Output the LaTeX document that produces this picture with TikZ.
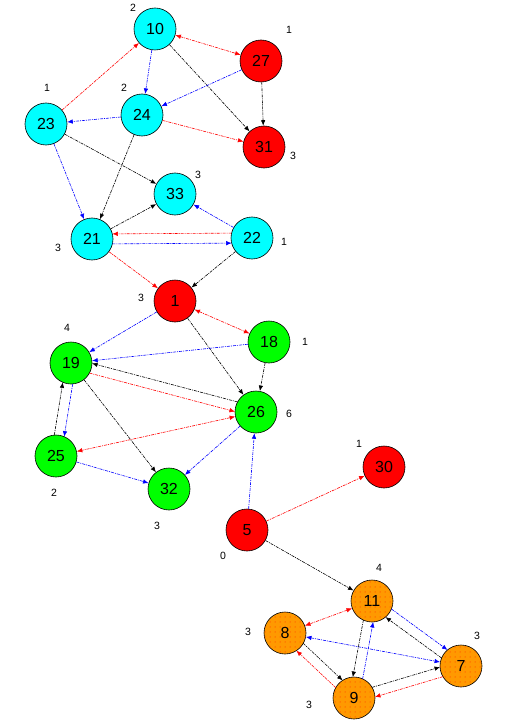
\documentclass[tikz,border=0pt]{standalone}
\usepackage{fontspec}
\setmainfont{Liberation Sans}
\usetikzlibrary{arrows.meta,calc,patterns.meta}
\definecolor{cyanN}{RGB}{0,255,255}
\definecolor{redN}{RGB}{255,0,0}
\definecolor{greenN}{RGB}{0,255,0}
\definecolor{orangeN}{RGB}{255,153,0}
\definecolor{blueN}{RGB}{0,0,255}
\tikzset{
  vertex/.style={circle, draw=black, line width=0.6pt, minimum size=42pt, inner sep=0pt,
    font=\fontsize{16}{16}\selectfont},
  cy/.style={fill=cyanN},
  rd/.style={fill=redN},
  gr/.style={fill=greenN},
  og/.style={fill=orangeN, postaction={pattern={Dots[distance=5pt,radius=0.5pt]}, pattern color=red!80!orange}},
  deg/.style={font=\fontsize{10.5}{10.5}\selectfont, inner sep=1pt},
  lnk/.style={line width=0.6pt, dash pattern=on 3pt off 1pt on 1pt off 1pt},
  tip/.tip={Latex[length=5.5pt,width=4.5pt]},
  rlink/.style={lnk, draw=redN, -tip},
  blink/.style={lnk, draw=blueN, -tip},
  klink/.style={lnk, draw=black, -tip},
  rboth/.style={lnk, draw=redN, tip-tip},
  bboth/.style={lnk, draw=blueN, tip-tip},
}
\begin{document}
\begin{tikzpicture}[x=1pt, y=-1pt]
  \useasboundingbox (0,0) rectangle (525,722);
  % vertices
  \foreach \n/\x/\y/\s in {10/155/29/cy, 27/261/61/rd, 23/46/124/cy, 24/142/115/cy,
      31/264/147/rd, 33/175/194/cy, 21/92/239/cy, 22/252/238/cy, 1/175/301/rd,
      18/269/342/gr, 19/71/363/gr, 26/256/412/gr, 25/56/456/gr, 32/169/489/gr,
      30/384/467/rd, 5/247/530/rd, 11/372/601/og, 8/285/633/og, 7/461/666/og, 9/354/698/og} {
    \node[vertex, \s] (n\n) at (\x,\y) {\n};
  }
  % degree labels
  \foreach \n/\x/\y/\t in {10/133/8/2, 27/289/30/1, 23/47/88/1, 24/124/88/2, 31/293/156/3,
      33/198/175/3, 21/58/248/3, 22/284/242/1, 1/141/298/3, 18/305/342/1, 19/67/328/4,
      26/289/414/6, 25/54/493/2, 32/157/526/3, 30/359/444/1, 5/223/556/0, 11/379/568/4,
      8/248/632/3, 7/477/636/3, 9/309/705/3} {
    \node[deg] (d\n) at (\x,\y) {\t};
  }
  % single links
  \foreach \a/\b/\s in {23/10/rlink, 10/27/rboth, 10/24/blink, 10/31/klink, 27/24/blink,
      27/31/klink, 24/23/blink, 24/31/rlink, 23/33/klink, 23/21/blink, 24/21/klink,
      21/33/klink, 22/33/blink, 21/1/rlink, 22/1/klink, 1/19/blink, 1/18/rboth,
      1/26/klink, 18/19/blink, 18/26/klink, 19/32/klink, 26/25/rboth, 26/32/blink,
      25/32/blink, 5/26/blink, 5/30/rlink, 5/11/klink, 11/8/rboth, 8/7/bboth} {
    \draw[\s] (n\a) -- (n\b);
  }
  % paired links, drawn side by side
  \foreach \a/\b/\s/\o in {22/21/rlink/-5pt, 21/22/blink/-5pt, 19/25/blink/5pt,
      25/19/klink/5pt, 26/19/klink/-5pt, 19/26/rlink/-5pt, 11/9/klink/-5pt,
      9/11/blink/-5pt, 9/7/klink/5pt, 7/9/rlink/5pt, 8/9/klink/5pt, 9/8/rlink/5pt,
      11/7/blink/5pt, 7/11/klink/5pt} {
    \draw[\s, shorten <=20.4pt, shorten >=20.4pt]
      ($(n\a)!\o!90:(n\b)$) -- ($(n\b)!\o!-90:(n\a)$);
  }
\end{tikzpicture}
\end{document}
